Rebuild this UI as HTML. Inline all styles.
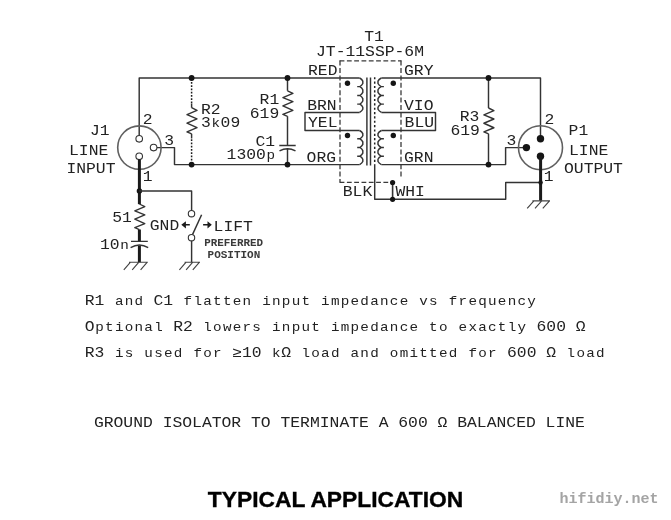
<!DOCTYPE html>
<html lang="en">
<head>
<meta charset="utf-8">
<title>Typical Application - JT-11SSP-6M ground isolator</title>
<style>
html,body{margin:0;padding:0;background:#fff;}
body{width:671px;height:520px;overflow:hidden;}
svg{display:block;}
.lab text{font-family:"Liberation Mono","DejaVu Sans Mono",monospace;fill:#222;}
.lab text.s{font-weight:bold;fill:#3a3a3a;}
.title{font-family:"Liberation Sans",Arial,Helvetica,sans-serif;font-weight:bold;font-size:22.6px;fill:#000;stroke:#000;stroke-width:0.35px;}
.wm{font-family:"Liberation Mono","DejaVu Sans Mono",monospace;font-weight:bold;font-size:15px;fill:#a4a4a4;}
</style>
</head>
<body>
<svg width="671" height="520" viewBox="0 0 671 520" style="will-change:transform">
<rect x="0" y="0" width="671" height="520" fill="#ffffff"/>
<g fill="none" stroke="#333333" stroke-width="1.45" stroke-linecap="butt" stroke-linejoin="round">
<path d="M139.2,135.4 V78.0 H359.6" stroke-width="1.45"/>
<path d="M157,147.6 H174.5 V164.6 H359.6" stroke-width="1.45"/>
<path d="M191.6,78.8 V103.6 M191.6,163.8 V138.2" stroke-width="1.5" stroke-dasharray="1.8 1.45" stroke="#1c1c1c"/>
<path d="M191.6,103.4 V107.7 M191.6,133.8 V138.4" stroke-width="1.45"/>
<path d="M191.60,107.70 L197.00,110.31 L187.00,114.63 L197.00,118.84 L187.00,123.16 L197.00,127.68 L187.00,131.89 L191.60,133.80" stroke-width="1.45"/>
<path d="M287.5,78.0 V90.8 M287.50,90.80 L292.90,93.35 L282.90,97.57 L292.90,101.69 L282.90,105.90 L292.90,110.32 L282.90,114.44 L287.50,116.30 M287.5,116.2 V145.4 M279.3,145.4 H295.7 M279.5,150.8 Q287.5,146.9 295.5,150.8 M287.5,148.9 V164.6" stroke-width="1.45"/>
<circle cx="191.6" cy="78.0" r="2.9" fill="#151515" stroke="none"/>
<circle cx="191.6" cy="164.6" r="2.9" fill="#151515" stroke="none"/>
<circle cx="287.5" cy="78.0" r="2.9" fill="#151515" stroke="none"/>
<circle cx="287.5" cy="164.6" r="2.9" fill="#151515" stroke="none"/>
<circle cx="139.4" cy="147.6" r="21.7" stroke="#606060" stroke-width="1.6"/>
<circle cx="139.2" cy="138.8" r="3.3" stroke-width="1.1"/>
<circle cx="153.6" cy="147.6" r="3.3" stroke-width="1.1"/>
<circle cx="139.2" cy="156.3" r="3.3" stroke-width="1.1"/>
<path d="M139.4,159.4 V204.2" stroke-width="3" stroke="#1a1a1a"/>
<path d="M139.40,204.00 L144.80,206.56 L134.80,210.79 L144.80,214.93 L134.80,219.16 L144.80,223.59 L134.80,227.73 L139.40,229.60" stroke-width="1.35"/>
<path d="M139.4,229.4 V241.4 M139.4,245.6 V262.2" stroke-width="3" stroke="#1a1a1a"/>
<path d="M131,241.3 H147.8 M130.6,247.6 Q139.4,242.4 148.2,247.6" stroke-width="1.3"/>
<circle cx="139.4" cy="191" r="2.7" fill="#151515" stroke="none"/>
<path d="M139.4,191 H191.6 V210.4" stroke-width="1.45"/>
<circle cx="191.5" cy="213.7" r="3.2" stroke-width="1.1"/>
<circle cx="191.5" cy="237.7" r="3.2" stroke-width="1.1"/>
<path d="M192.6,234.4 L201.6,214.8" stroke-width="1.45"/>
<path d="M191.6,241 V262.2" stroke-width="1.45"/>
<path d="M129,262.2 H147.8 M130.50,262.2 l-6.7,7.6 M138.90,262.2 l-6.7,7.6 M147.30,262.2 l-6.7,7.6" stroke-width="1.15" stroke="#444"/>
<path d="M184.6,262.2 H200 M186.10,262.2 l-6.7,7.6 M192.80,262.2 l-6.7,7.6 M199.50,262.2 l-6.7,7.6" stroke-width="1.15" stroke="#444"/>
<path d="M181.3,224.8 L185.9,221.2 V224 H189.8 V225.6 H185.9 V228.4 Z" fill="#1c1c1c" stroke="none"/>
<path d="M211.8,224.8 L207.5,221.2 V224 H203.1 V225.6 H207.5 V228.4 Z" fill="#1c1c1c" stroke="none"/>
<path d="M339.6,60.8 H401.4 M339.6,182.3 H392" stroke-width="1.3" stroke-dasharray="4.8 2.5" stroke="#3a3a3a"/>
<path d="M340,60.6 V182.6 M401,60.6 V178" stroke-width="1.3" stroke-dasharray="5 2.4" stroke="#3a3a3a"/>
<path d="M366.9,77.6 V165.4 M370.5,77.6 V165.4" stroke-width="1.45"/>
<path d="M374.7,77.2 V165" stroke-width="1.5" stroke-dasharray="2.15 2.2" stroke="#222"/>
<path d="M359.6,78.0 Q362.00,79.30 362.8,81.10 V83.50 Q362.00,85.30 359.90000000000003,86.6 H357.2 M359.90000000000003,86.6 Q362.00,87.90 362.8,89.70 V92.40 Q362.00,94.20 359.90000000000003,95.5 H357.2 M359.90000000000003,95.5 Q362.00,96.80 362.8,98.60 V101.00 Q362.00,102.80 359.90000000000003,104.1 H357.2 M359.90000000000003,104.1 Q362.00,105.40 362.8,107.20 V109.30 Q362.00,111.10 359.6,112.4" stroke-width="1.45"/>
<path d="M359.6,130.5 Q362.00,131.80 362.8,133.60 V135.70 Q362.00,137.50 359.90000000000003,138.8 H357.2 M359.90000000000003,138.8 Q362.00,140.10 362.8,141.90 V144.40 Q362.00,146.20 359.90000000000003,147.5 H357.2 M359.90000000000003,147.5 Q362.00,148.80 362.8,150.60 V153.10 Q362.00,154.90 359.90000000000003,156.2 H357.2 M359.90000000000003,156.2 Q362.00,157.50 362.8,159.30 V161.50 Q362.00,163.30 359.6,164.6" stroke-width="1.45"/>
<path d="M381.4,78.0 Q378.85,79.30 378.0,81.10 V83.50 Q378.85,85.30 381.09999999999997,86.6 H383.9 M381.09999999999997,86.6 Q378.85,87.90 378.0,89.70 V92.40 Q378.85,94.20 381.09999999999997,95.5 H383.9 M381.09999999999997,95.5 Q378.85,96.80 378.0,98.60 V101.00 Q378.85,102.80 381.09999999999997,104.1 H383.9 M381.09999999999997,104.1 Q378.85,105.40 378.0,107.20 V109.30 Q378.85,111.10 381.4,112.4" stroke-width="1.45"/>
<path d="M381.4,130.5 Q378.85,131.80 378.0,133.60 V135.70 Q378.85,137.50 381.09999999999997,138.8 H383.9 M381.09999999999997,138.8 Q378.85,140.10 378.0,141.90 V144.40 Q378.85,146.20 381.09999999999997,147.5 H383.9 M381.09999999999997,147.5 Q378.85,148.80 378.0,150.60 V153.10 Q378.85,154.90 381.09999999999997,156.2 H383.9 M381.09999999999997,156.2 Q378.85,157.50 378.0,159.30 V161.50 Q378.85,163.30 381.4,164.6" stroke-width="1.45"/>
<path d="M359.6,112.4 H305 V130.5 H359.6" stroke-width="1.45"/>
<path d="M381.4,112.4 H435.5 V130.5 H381.4" stroke-width="1.45"/>
<circle cx="347.5" cy="83.3" r="2.7" fill="#151515" stroke="none"/>
<circle cx="393.3" cy="83.3" r="2.7" fill="#151515" stroke="none"/>
<circle cx="347.5" cy="135.5" r="2.7" fill="#151515" stroke="none"/>
<circle cx="393.3" cy="135.5" r="2.7" fill="#151515" stroke="none"/>
<path d="M374.7,165 V199.3 H505.7 V182.5 H540.5" stroke-width="1.45"/>
<path d="M392.6,182.5 V199.3" stroke-width="1.6"/>
<circle cx="392.6" cy="182.5" r="2.6" fill="#151515" stroke="none"/>
<circle cx="392.6" cy="199.3" r="2.6" fill="#151515" stroke="none"/>
<path d="M381.4,78.0 H540.5 V138.8" stroke-width="1.45"/>
<path d="M381.4,164.6 H505.6 V147.6 H526.5" stroke-width="1.45"/>
<path d="M488.5,78.0 V108 M488.50,108.00 L493.90,110.58 L483.90,114.85 L493.90,119.01 L483.90,123.28 L493.90,127.75 L483.90,131.91 L488.50,133.80 M488.5,133.8 V164.6" stroke-width="1.45"/>
<circle cx="488.5" cy="78.0" r="2.9" fill="#151515" stroke="none"/>
<circle cx="488.5" cy="164.6" r="2.9" fill="#151515" stroke="none"/>
<circle cx="540.5" cy="147.7" r="22" stroke="#606060" stroke-width="1.6"/>
<circle cx="540.5" cy="138.8" r="3.7" fill="#151515" stroke="none"/>
<circle cx="526.4" cy="147.6" r="3.7" fill="#151515" stroke="none"/>
<circle cx="540.5" cy="156.3" r="3.7" fill="#151515" stroke="none"/>
<path d="M540.6,156.3 V200.8" stroke-width="3" stroke="#1a1a1a"/>
<circle cx="540.6" cy="182.5" r="2.2" fill="#151515" stroke="none"/>
<path d="M532.4,200.8 H550 M533.90,200.8 l-6.7,7.6 M541.70,200.8 l-6.7,7.6 M549.50,200.8 l-6.7,7.6" stroke-width="1.15" stroke="#444"/>
</g>
<g class="lab">
<text class="t" x="364.20" y="40.90" font-size="14.0" textLength="19.64" lengthAdjust="spacingAndGlyphs">T1</text>
<text class="t" x="316.00" y="56.00" font-size="14.0" textLength="108.02" lengthAdjust="spacingAndGlyphs">JT-11SSP-6M</text>
<text class="t" x="308.00" y="74.70" font-size="14.0" textLength="29.46" lengthAdjust="spacingAndGlyphs">RED</text>
<text class="t" x="404.00" y="74.70" font-size="14.0" textLength="29.46" lengthAdjust="spacingAndGlyphs">GRY</text>
<text class="t" x="307.20" y="109.50" font-size="14.0" textLength="29.46" lengthAdjust="spacingAndGlyphs">BRN</text>
<text class="t" x="404.00" y="109.50" font-size="14.0" textLength="29.46" lengthAdjust="spacingAndGlyphs">VIO</text>
<text class="t" x="308.00" y="127.00" font-size="14.0" textLength="29.46" lengthAdjust="spacingAndGlyphs">YEL</text>
<text class="t" x="404.60" y="127.00" font-size="14.0" textLength="29.46" lengthAdjust="spacingAndGlyphs">BLU</text>
<text class="t" x="306.60" y="161.80" font-size="14.0" textLength="29.46" lengthAdjust="spacingAndGlyphs">ORG</text>
<text class="t" x="404.00" y="161.80" font-size="14.0" textLength="29.46" lengthAdjust="spacingAndGlyphs">GRN</text>
<text class="t" x="342.80" y="195.80" font-size="14.0" textLength="29.46" lengthAdjust="spacingAndGlyphs">BLK</text>
<text class="t" x="395.40" y="195.80" font-size="14.0" textLength="29.46" lengthAdjust="spacingAndGlyphs">WHI</text>
<text class="t" x="259.60" y="104.20" font-size="14.0" textLength="19.64" lengthAdjust="spacingAndGlyphs">R1</text>
<text class="t" x="249.80" y="117.70" font-size="14.0" textLength="29.46" lengthAdjust="spacingAndGlyphs">619</text>
<text class="t" x="255.40" y="145.80" font-size="14.0" textLength="19.64" lengthAdjust="spacingAndGlyphs">C1</text>
<text class="t" transform="scale(1.1690,1)" x="193.83 202.23 210.63 219.03 227.97" y="159.40" font-size="14.0">1300<tspan font-size="12.2">p</tspan></text>
<text class="t" x="201.00" y="113.80" font-size="14.0" textLength="19.64" lengthAdjust="spacingAndGlyphs">R2</text>
<text class="t" transform="scale(1.1690,1)" x="171.93 180.87 188.73 197.13" y="127.00" font-size="14.0">3<tspan font-size="12.2">k</tspan>09</text>
<text class="t" x="90.00" y="134.60" font-size="14.0" textLength="19.64" lengthAdjust="spacingAndGlyphs">J1</text>
<text class="t" x="69.00" y="154.60" font-size="14.0" textLength="39.28" lengthAdjust="spacingAndGlyphs">LINE</text>
<text class="t" x="66.40" y="173.00" font-size="14.0" textLength="49.10" lengthAdjust="spacingAndGlyphs">INPUT</text>
<text class="t" x="142.80" y="123.80" font-size="14.0" textLength="9.82" lengthAdjust="spacingAndGlyphs">2</text>
<text class="t" x="164.20" y="144.50" font-size="14.0" textLength="9.82" lengthAdjust="spacingAndGlyphs">3</text>
<text class="t" x="142.80" y="180.60" font-size="14.0" textLength="9.82" lengthAdjust="spacingAndGlyphs">1</text>
<text class="t" x="112.20" y="221.60" font-size="14.0" textLength="19.64" lengthAdjust="spacingAndGlyphs">51</text>
<text class="t" transform="scale(1.1690,1)" x="85.54 93.94 102.88" y="248.60" font-size="14.0">10<tspan font-size="12.2">n</tspan></text>
<text class="t" x="149.80" y="230.00" font-size="14.0" textLength="29.46" lengthAdjust="spacingAndGlyphs">GND</text>
<text class="t" x="213.60" y="230.60" font-size="14.0" textLength="39.28" lengthAdjust="spacingAndGlyphs">LIFT</text>
<text class="t" x="459.80" y="121.30" font-size="14.0" textLength="19.64" lengthAdjust="spacingAndGlyphs">R3</text>
<text class="t" x="450.40" y="135.00" font-size="14.0" textLength="29.46" lengthAdjust="spacingAndGlyphs">619</text>
<text class="t" x="544.60" y="124.30" font-size="14.0" textLength="9.82" lengthAdjust="spacingAndGlyphs">2</text>
<text class="t" x="506.60" y="144.50" font-size="14.0" textLength="9.82" lengthAdjust="spacingAndGlyphs">3</text>
<text class="t" x="543.80" y="180.60" font-size="14.0" textLength="9.82" lengthAdjust="spacingAndGlyphs">1</text>
<text class="t" x="568.60" y="135.00" font-size="14.0" textLength="19.64" lengthAdjust="spacingAndGlyphs">P1</text>
<text class="t" x="569.00" y="154.60" font-size="14.0" textLength="39.28" lengthAdjust="spacingAndGlyphs">LINE</text>
<text class="t" x="564.00" y="172.60" font-size="14.0" textLength="58.92" lengthAdjust="spacingAndGlyphs">OUTPUT</text>
<text class="s" x="204.20" y="246.00" font-size="11.4" textLength="58.86" lengthAdjust="spacingAndGlyphs">PREFERRED</text>
<text class="s" x="207.60" y="258.00" font-size="11.4" textLength="52.64" lengthAdjust="spacingAndGlyphs">POSITION</text>
<text class="t" transform="scale(1.1690,1)" x="72.54 80.94 89.34 98.28 106.68 115.08 122.94 131.34 139.74 148.14 157.08 165.48 173.88 182.28 190.68 199.08 207.48 215.34 224.28 232.68 241.08 249.48 257.88 265.74 274.68 283.08 291.48 299.88 308.28 316.68 325.08 333.48 341.88 349.74 358.68 367.08 374.94 383.88 392.28 400.68 409.08 417.48 425.88 434.28 442.68 451.08" y="304.70" font-size="14.0">R1 <tspan font-size="12.2">and </tspan>C1 <tspan font-size="12.2">flatten input impedance vs frequency</tspan></text>
<text class="t" transform="scale(1.1690,1)" x="72.54 81.48 89.88 98.28 106.68 115.08 123.48 131.88 139.74 148.14 156.54 164.94 173.88 182.28 190.68 199.08 207.48 215.88 223.74 232.68 241.08 249.48 257.88 266.28 274.14 283.08 291.48 299.88 308.28 316.68 325.08 333.48 341.88 350.28 358.14 367.08 375.48 383.34 392.28 400.68 409.08 417.48 425.88 434.28 442.68 450.54 458.94 467.34 475.74 484.14 492.54" y="330.90" font-size="14.0">O<tspan font-size="12.2">ptional </tspan>R2 <tspan font-size="12.2">lowers input impedance to exactly </tspan>600 Ω</text>
<text class="t" transform="scale(1.1690,1)" x="72.54 80.94 89.34 98.28 106.68 114.54 123.48 131.88 140.28 148.68 156.54 165.48 173.88 182.28 190.14 198.54 206.94 215.34 223.74 232.68 240.54 248.94 257.88 266.28 274.68 283.08 290.94 299.88 308.28 316.68 324.54 333.48 341.88 350.28 358.68 367.08 375.48 383.88 391.74 400.68 409.08 417.48 425.34 433.74 442.14 450.54 458.94 467.34 475.74 484.68 493.08 501.48 509.88" y="357.10" font-size="14.0">R3 <tspan font-size="12.2">is used for </tspan>≥10 <tspan font-size="12.2">k</tspan>Ω <tspan font-size="12.2">load and omitted for </tspan>600 Ω <tspan font-size="12.2">load</tspan></text>
<text class="t" x="93.90" y="426.60" font-size="14.0" textLength="491.00" lengthAdjust="spacingAndGlyphs">GROUND ISOLATOR TO TERMINATE A 600 Ω BALANCED LINE</text>
</g>
<text class="title" x="207.8" y="507.4" textLength="255.4" lengthAdjust="spacingAndGlyphs">TYPICAL APPLICATION</text>
<text class="wm" x="559.4" y="503.1" textLength="99" lengthAdjust="spacing">hifidiy.net</text>
</svg>
</body>
</html>
